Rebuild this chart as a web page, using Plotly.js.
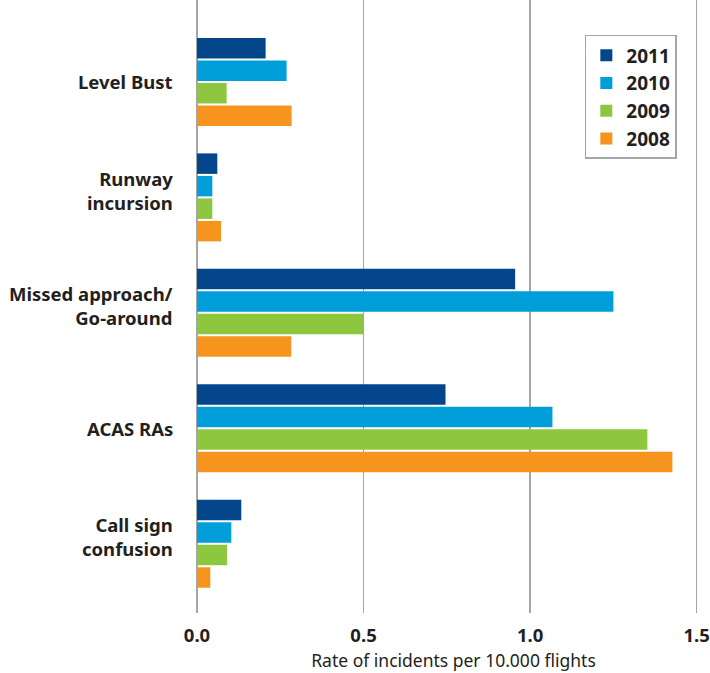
<!DOCTYPE html>
<html>
<head>
<meta charset="utf-8">
<script src="https://cdn.plot.ly/plotly-3.0.1.min.js"></script>
<style>
  html, body { margin: 0; padding: 0; background: #fff; }
  #chart { width: 710px; height: 673px; }
</style>
</head>
<body>
<div id="chart"></div>
<script>
// Incident categories, top to bottom
const categories = ["Level Bust", "Runway<br>incursion", "Missed approach/<br>Go-around", "ACAS RAs", "Call sign<br>confusion"];

// Rate of incidents per 10.000 flights, by year
const years = ["2011", "2010", "2009", "2008"];
const rate2011 = [0.206, 0.061, 0.955, 0.746, 0.133];
const rate2010 = [0.269, 0.046, 1.250, 1.067, 0.103];
const rate2009 = [0.089, 0.046, 0.500, 1.352, 0.090];
const rate2008 = [0.284, 0.072, 0.283, 1.427, 0.040];

const xTicks = [0, 0.5, 1.0, 1.5];
const xTickText = ["0.0", "0.5", "1.0", "1.5"];

const seriesValues = [rate2011, rate2010, rate2009, rate2008];
const colors = ["#03468c", "#009fda", "#8dc63f", "#f7941d"];

const traces = years.map((yr, i) => ({
  type: "bar",
  orientation: "h",
  name: yr,
  y: categories,
  x: seriesValues[i],
  marker: { color: colors[i], line: { width: 0 } },
  hoverinfo: "x+name"
}));

const font = "'Noto Sans', 'Open Sans', sans-serif";
const textColor = "#231f20";

// Category labels sit left of the axis; two-line labels ride a little high
const categoryLabels = categories.map(c => ({
  xref: "paper", yref: "y",
  x: 0, y: c,
  xanchor: "right", yanchor: "middle",
  xshift: -22,
  yshift: c.includes("<br>") ? 7 : 0,
  align: "right",
  showarrow: false,
  text: c,
  font: { family: font, size: 18.5, color: textColor, weight: "bold" }
}));

const layout = {
  width: 710,
  height: 673,
  margin: { l: 197, r: 0, t: 0, b: 60 },
  paper_bgcolor: "#ffffff",
  plot_bgcolor: "#ffffff",
  barmode: "group",
  bargap: 0.22,
  bargroupgap: 0.09,
  showlegend: true,
  legend: {
    x: 0.756, y: 0.943, xanchor: "left", yanchor: "top",
    traceorder: "normal",
    bordercolor: "#a6a6a6", borderwidth: 1.5,
    bgcolor: "#ffffff",
    font: { family: font, size: 19, color: textColor, weight: "bold" },
    itemwidth: 30,
    tracegroupgap: 0
  },
  xaxis: {
    range: [0, 1.54],
    tickvals: xTicks,
    ticktext: xTickText,
    showgrid: true,
    gridcolor: "#a6a6a6",
    gridwidth: 1.5,
    zeroline: true,
    zerolinecolor: "#a6a6a6",
    zerolinewidth: 2.5,
    showline: false,
    ticks: "",
    ticklabelstandoff: 9,
    tickfont: { family: font, size: 18.5, color: textColor, weight: "bold" },
    title: {
      text: "Rate of incidents per 10.000 flights",
      font: { family: font, size: 17.5, color: textColor },
      standoff: 9
    },
    fixedrange: true
  },
  yaxis: {
    type: "category",
    range: [4.6, -0.71],
    showgrid: false,
    zeroline: false,
    showline: false,
    ticks: "",
    showticklabels: false,
    fixedrange: true
  },
  annotations: categoryLabels
};

Plotly.newPlot("chart", traces, layout, { displayModeBar: false, staticPlot: true });
</script>
</body>
</html>
